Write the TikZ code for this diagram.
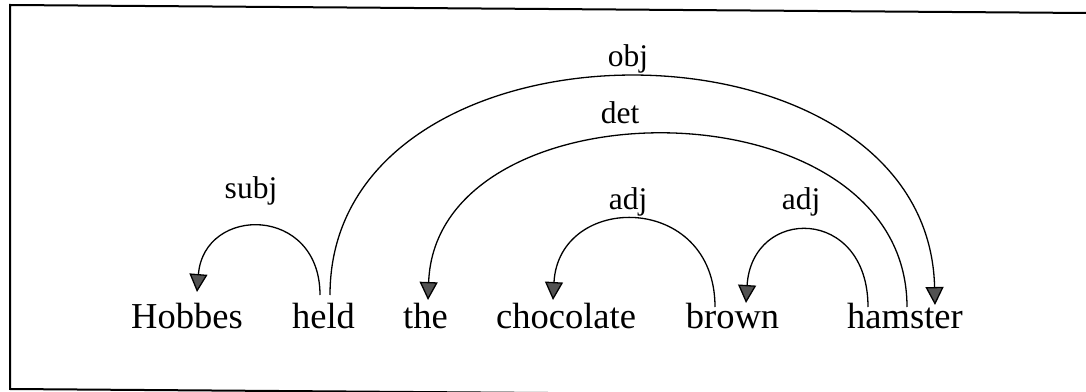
\documentclass[tikz,border=0pt]{standalone}
\usepackage{fontspec}
\setmainfont{Liberation Serif}
\usetikzlibrary{arrows.meta}
\begin{document}
\begin{tikzpicture}[x=1pt,y=1pt,
  word/.style={font=\fontsize{36.5}{40}\selectfont, inner sep=0pt, anchor=base},
  lab/.style={font=\fontsize{31.5}{34}\selectfont, inner sep=0pt, anchor=base},
  dep/.style={line width=1.3pt, -{Triangle[length=18pt,width=18pt,fill=black!68]}},
  frame/.style={line width=2pt}]
\useasboundingbox (0,0) rectangle (1086,391);
\clip (0,0) rectangle (1086,391);
\draw[frame] (1086,378) -- (10,386) -- (10,2) -- (1086,-6);
% words
\node[word] (Hobbes) at (187,63) {Hobbes};
\node[word] (held) at (323.5,63) {held};
\node[word] (the) at (425.5,63) {the};
\node[word] (chocolate) at (566,63) {chocolate};
\node[word] (brown) at (732.5,63) {brown};
\node[word] (hamster) at (905,63) {hamster};
% labels
\node[lab] (lsubj) at (251,192) {subj};
\node[lab] (lobj) at (628,324) {obj};
\node[lab] (ldet) at (620,267) {det};
\node[lab] (ladjA) at (628,181) {adj};
\node[lab] (ladjB) at (801,181) {adj};
% dependencies
\draw[dep] ([xshift=-3.5pt,yshift=33pt]held.base) .. controls (320,186) and (204,186) .. ([xshift=10pt,yshift=36pt]Hobbes.base);
\draw[dep] ([xshift=6.5pt,yshift=33pt]held.base) .. controls (330,388) and (928,388) .. ([xshift=30pt,yshift=23pt]hamster.base);
\draw[dep] ([xshift=2pt,yshift=21pt]hamster.base) .. controls (907,312) and (436,312) .. ([xshift=2.5pt,yshift=28pt]the.base);
\draw[dep] ([xshift=-17.5pt,yshift=21pt]brown.base) .. controls (715,199) and (559,199) .. ([xshift=-13pt,yshift=28pt]chocolate.base);
\draw[dep] ([xshift=-37pt,yshift=21pt]hamster.base) .. controls (868,185) and (752,185) .. ([xshift=13.5pt,yshift=25pt]brown.base);
\end{tikzpicture}
\end{document}
